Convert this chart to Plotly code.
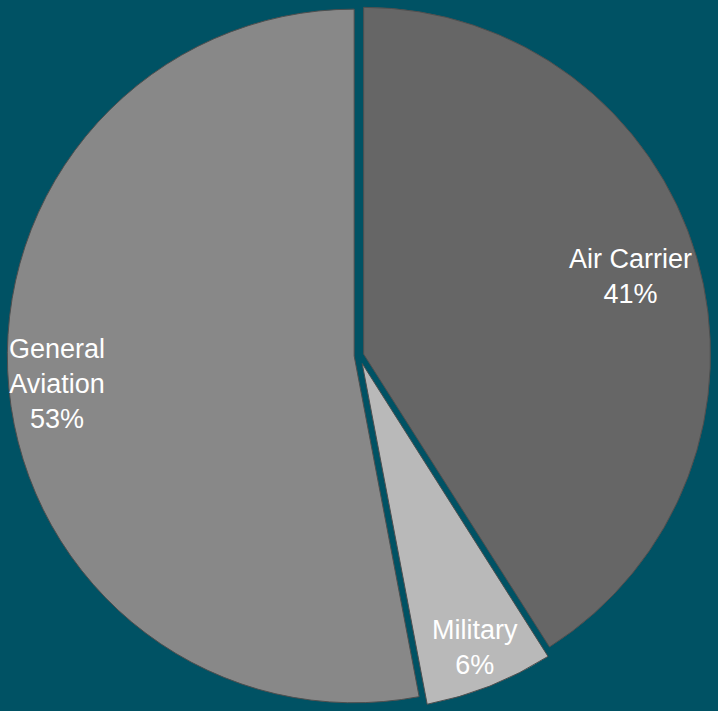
import math
import plotly.graph_objects as go

categories = ["Air Carrier", "Military", "General Aviation"]
values = [41, 6, 53]
label_lines = ["Air Carrier", "Military", "General<br>Aviation"]

# styles (kept apart from data)
colors = ["#666666", "#b9b9b9", "#888888"]
pulls = [0.014, 0.025, 0.014]
label_radius = [0.80, 0.88, 0.86]   # fraction of pie radius where labels sit
bg = "#005264"
W, H = 718, 711

fig = go.Figure(go.Pie(
    labels=categories,
    values=values,
    sort=False,
    direction="clockwise",
    rotation=0,
    pull=pulls,
    marker=dict(colors=colors, line=dict(color="#4f4f4f", width=1)),
    textinfo="none",
    showlegend=False,
    hoverinfo="label+percent",
    domain=dict(x=[0, 1], y=[0, 1]),
))

# label placement along each slice's bisector, following the pie's own geometry
total = sum(values)
R = min(W, H) / (2 + 2 * max(pulls))
cum = 0
for lab, v, p, rf in zip(label_lines, values, pulls, label_radius):
    mid = (cum + v / 2) / total * 2 * math.pi
    cum += v
    r = R * (rf + p)
    x = 0.5 + r * math.sin(mid) / W
    y = 0.5 + r * math.cos(mid) / H
    fig.add_annotation(
        x=x, y=y, xref="paper", yref="paper",
        xanchor="center", yanchor="middle",
        text=f"{lab}<br>{round(v / total * 100)}%",
        showarrow=False, align="center",
        font=dict(family="Liberation Sans, Arial, sans-serif", size=27, color="white"),
    )

fig.update_layout(
    width=W,
    height=H,
    margin=dict(l=0, r=0, t=0, b=0),
    paper_bgcolor=bg,
    plot_bgcolor=bg,
)

fig.write_html(
    "out.html",
    config={"displayModeBar": False},
    post_script="document.body.style.margin='0';document.body.style.overflow='hidden';",
)
